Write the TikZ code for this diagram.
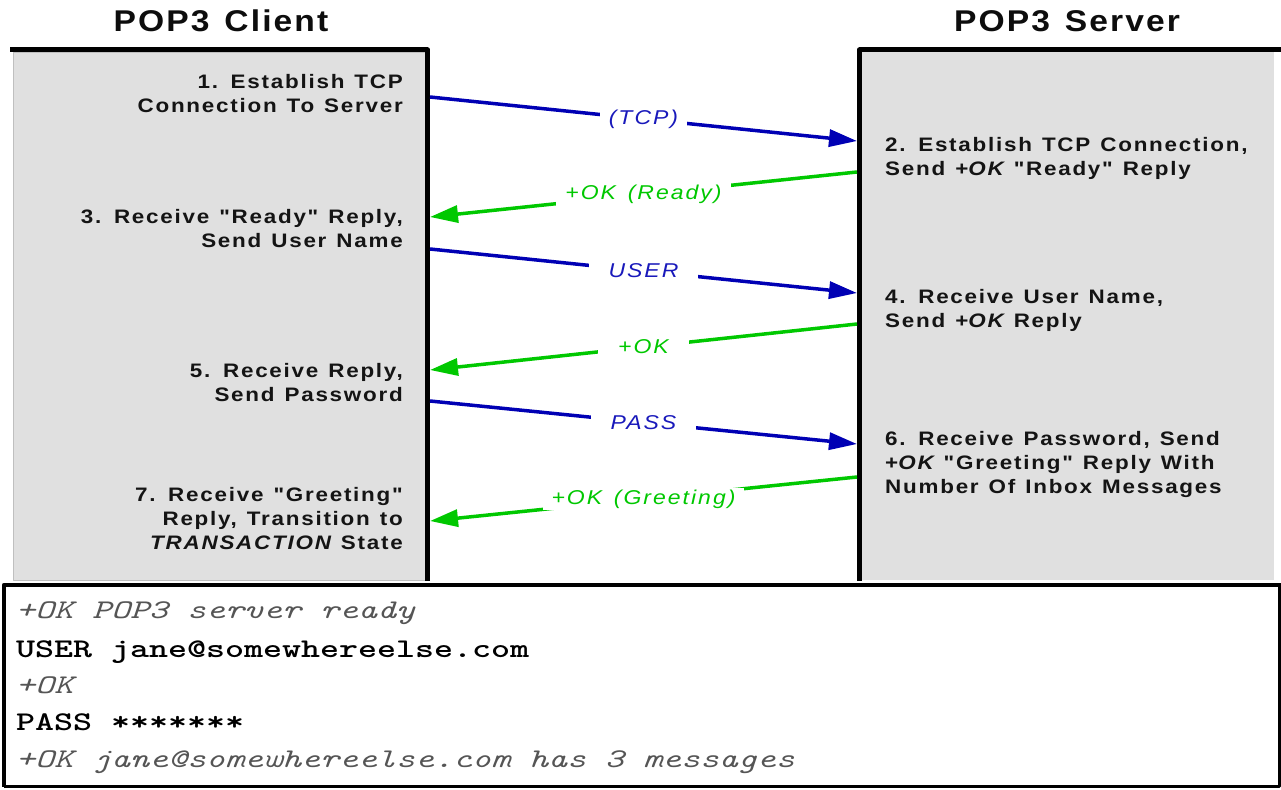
\documentclass[tikz,border=0pt]{standalone}
\usepackage{fontspec}
\usetikzlibrary{arrows.meta}
\newfontfamily\titlefont[FakeStretch=1.12,LetterSpace=7,WordSpace=1.3]{Liberation Sans}
\newfontfamily\stepfont[FakeStretch=1.15,LetterSpace=9,WordSpace=1.25]{Liberation Sans}
\newfontfamily\msgfont[FakeStretch=1.15,LetterSpace=10,WordSpace=1.4]{Liberation Sans}
\definecolor{boxgray}{RGB}{224,224,224}
\definecolor{reqblue}{RGB}{0,0,180}
\definecolor{repgreen}{RGB}{0,200,0}
\definecolor{codegray}{RGB}{85,85,85}
\begin{document}
\begin{tikzpicture}[x=1pt,y=-1pt,line join=round,
    boxtitle/.style={anchor=base,font=\titlefont\bfseries\fontsize{30}{34}\selectfont,text=black!95},
    clientstep/.style={anchor=north east,align=right,inner sep=0pt,font=\stepfont\bfseries\fontsize{19.5}{24.2}\selectfont,text=black!92},
    serverstep/.style={clientstep,anchor=north west,align=left},
    request/.style={draw=reqblue,line width=3.5pt,-{Triangle[length=28pt,width=17pt]}},
    reply/.style={draw=repgreen,line width=3.5pt,-{Triangle[length=28pt,width=17pt]}},
    msglabel/.style={midway,fill=white,inner xsep=9pt,inner ysep=2pt,font=\msgfont\itshape\fontsize{20}{24}\selectfont},
    codeline/.style={anchor=base west,inner sep=0pt,font=\ttfamily\fontsize{27}{30}\selectfont}]
  \useasboundingbox (0,0) rectangle (1281,789);

  % client and server sides
  \fill[boxgray,draw=gray!50] (13,52) rectangle (427,580);
  \fill[boxgray] (862,52) rectangle (1274,580);
  \draw[line width=5pt] (10,50) -- (427.5,50) -- (427.5,581);
  \draw[line width=5pt] (859.5,581) -- (859.5,50) -- (1281,50);
  \node[boxtitle] (client) at (221,32) {POP3 Client};
  \node[boxtitle] (server) at (1067,32) {POP3 Server};

  % steps
  \node[clientstep] (step1) at (403,74) {1. Establish TCP\\Connection To Server};
  \node[serverstep] (step2) at (885,137) {2. Establish TCP Connection,\\Send +{\itshape OK} "Ready" Reply};
  \node[clientstep] (step3) at (403,209) {3. Receive "Ready" Reply,\\Send User Name};
  \node[serverstep] (step4) at (885,289) {4. Receive User Name,\\Send +{\itshape OK} Reply};
  \node[clientstep] (step5) at (403,363) {5. Receive Reply,\\Send Password};
  \node[serverstep] (step6) at (885,431) {6. Receive Password, Send\\+{\itshape OK} "Greeting" Reply With\\Number Of Inbox Messages};
  \node[clientstep] (step7) at (403,487) {7. Receive "Greeting"\\Reply, Transition to\\{\itshape TRANSACTION} State};

  % messages
  \coordinate (cl1) at (430,97);  \coordinate (sv1) at (857,141);
  \coordinate (sv2) at (857,172); \coordinate (cl2) at (430,217);
  \coordinate (cl3) at (430,249); \coordinate (sv3) at (857,293);
  \coordinate (sv4) at (857,324); \coordinate (cl4) at (430,370);
  \coordinate (cl5) at (430,401); \coordinate (sv5) at (857,444);
  \coordinate (sv6) at (857,477); \coordinate (cl6) at (430,521);
  \draw[request] (cl1) -- (sv1) node[msglabel,text=reqblue!90!white] (tcp) {(TCP)};
  \draw[reply] (sv2) -- (cl2) node[msglabel,text=repgreen] (ready) {+OK (Ready)};
  \draw[request] (cl3) -- (sv3) node[msglabel,text=reqblue!90!white,inner xsep=20pt] (user) {USER};
  \draw[reply] (sv4) -- (cl4) node[msglabel,text=repgreen,inner xsep=20pt] (okuser) {+OK};
  \draw[request] (cl5) -- (sv5) node[msglabel,text=reqblue!90!white,inner xsep=20pt] (pass) {PASS};
  \draw[reply] (sv6) -- (cl6) node[msglabel,text=repgreen] (greeting) {+OK (Greeting)};

  % session transcript
  \fill[white] (4,585) rectangle (1279.5,786.5);
  \draw[line width=4.5pt] (4,786.5) -- (4,585) -- (1281,585);
  \draw[line width=3pt] (1279.5,585) -- (1279.5,786.5) -- (4,786.5);
  \node[codeline,text=codegray] (line1) at (16,618) {\scalebox{1.34}[1]{\itshape +OK POP3 server ready}};
  \node[codeline] (line2) at (16,657) {\scalebox{1.34}[1]{\bfseries USER jane@somewhereelse.com}};
  \node[codeline,text=codegray] (line3) at (16,693) {\scalebox{1.34}[1]{\itshape +OK}};
  \node[codeline] (line4) at (16,730) {\scalebox{1.34}[1]{\bfseries PASS *******}};
  \node[codeline,text=codegray] (line5) at (16,767) {\scalebox{1.34}[1]{\itshape +OK jane@somewhereelse.com has 3 messages}};
\end{tikzpicture}
\end{document}
